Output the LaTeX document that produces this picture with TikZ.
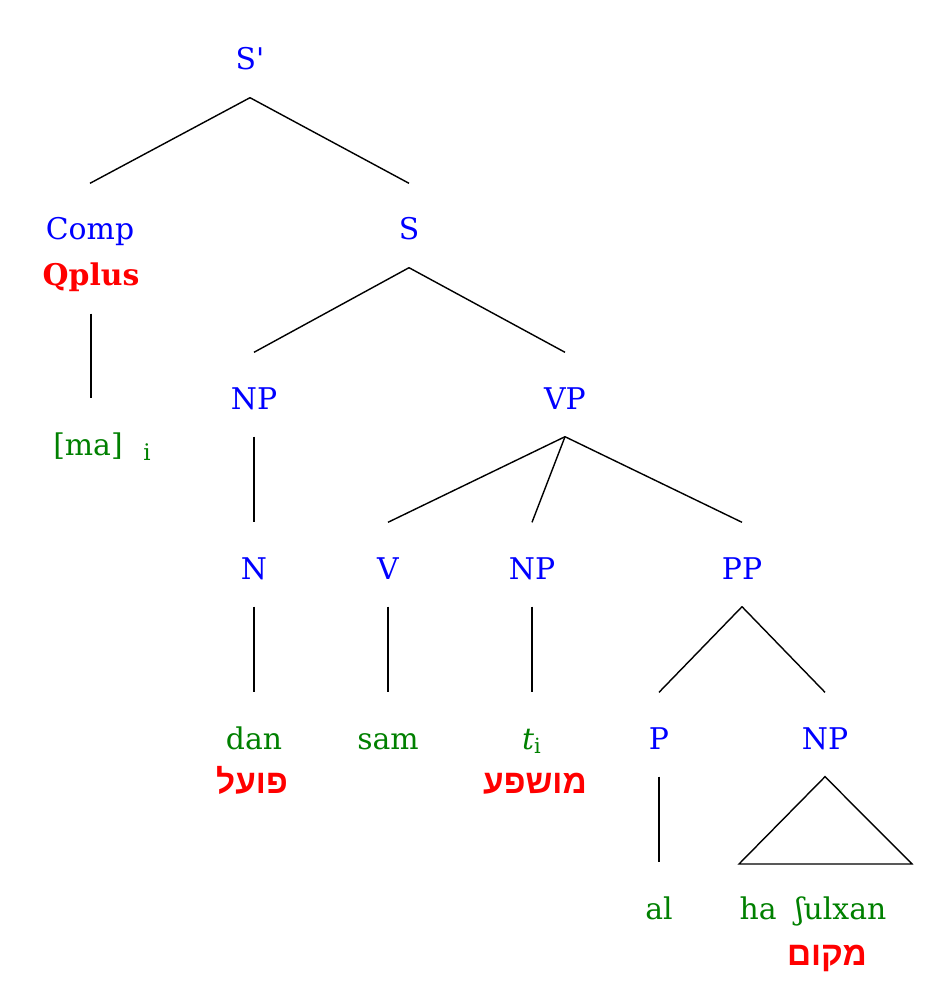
\documentclass[tikz,border=0pt]{standalone}
\usepackage{fontspec}
\setmainfont{DejaVu Serif}
\newfontfamily\hebfont[Script=Hebrew]{Liberation Sans}
\TeXXeTstate=1

\begin{document}
\begin{tikzpicture}[x=0.02cm, y=-0.02cm, line width=0.8pt,
  cat/.style={anchor=base, inner sep=0pt, text height=1.12cm, text depth=0.54cm, text=blue, font=\fontsize{17}{20}\selectfont},
  word/.style={cat, text=green!50!black},
  feat/.style={cat, text=red, font=\fontsize{17}{20}\selectfont\bfseries},
  gloss/.style={anchor=base, inner sep=0pt, text=red, font=\hebfont\fontsize{19}{22}\selectfont\bfseries}]
  \useasboundingbox (0, 0) rectangle (945, 1006);

  \node[cat] (sp) at (250, 70) {S\textquotesingle};
  \node[cat] (comp) at (90, 240) {Comp};
  \node[feat] (qplus) at (91, 286) {Qplus};
  \node[word] (ma) at (88, 455) {[ma]};
  \node[word, font=\fontsize{13}{15}\selectfont] (maidx) at (147, 460) {i};
  \node[cat] (s) at (409, 240) {S};
  \node[cat] (np) at (254, 409) {NP};
  \node[cat] (vp) at (565, 409) {VP};
  \node[cat] (n) at (254, 579) {N};
  \node[cat] (v) at (388, 579) {V};
  \node[cat] (npo) at (532, 579) {NP};
  \node[cat] (pp) at (742, 579) {PP};
  \node[word] (dan) at (254, 749) {dan};
  \node[word] (sam) at (388, 749) {sam};
  \node[word] (trace) at (532, 749) {{\itshape t}\textsubscript{i}};
  \node[cat] (p) at (659, 749) {P};
  \node[cat] (npl) at (825, 749) {NP};
  \node[word] (al) at (659, 919) {al};
  \node[word] (table) at (813, 919) {ha\ \ ʃulxan};
  \node[gloss] (agent) at (252, 793) {\beginR פועל\endR};
  \node[gloss] (patient) at (535, 793) {\beginR מושפע\endR};
  \node[gloss] (place) at (827, 965) {\beginR מקום\endR};
  \coordinate (tribl) at (739, 864);
  \coordinate (tribr) at (912, 864);

  \draw (sp.south) -- (comp.north);
  \draw (sp.south) -- (s.north);
  \draw (qplus.south) -- (qplus.south |- ma.north);
  \draw (s.south) -- (np.north);
  \draw (s.south) -- (vp.north);
  \draw (np.south) -- (n.north);
  \draw (vp.south) -- (v.north);
  \draw (vp.south) -- (npo.north);
  \draw (vp.south) -- (pp.north);
  \draw (n.south) -- (dan.north);
  \draw (v.south) -- (sam.north);
  \draw (npo.south) -- (trace.north);
  \draw (pp.south) -- (p.north);
  \draw (pp.south) -- (npl.north);
  \draw (p.south) -- (al.north);
  \draw (npl.south) -- (tribl) -- (tribr) -- cycle;
\end{tikzpicture}
\end{document}
